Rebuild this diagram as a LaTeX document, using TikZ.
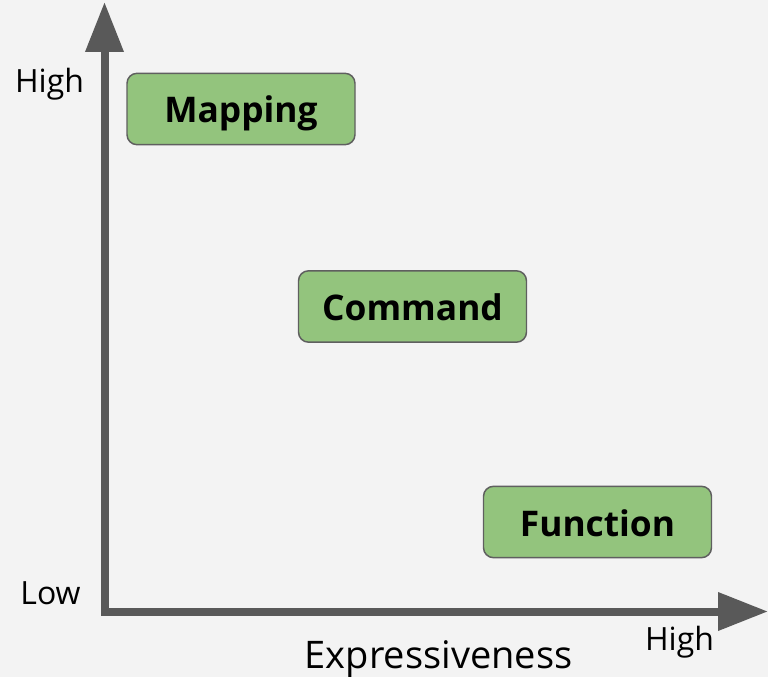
\documentclass[tikz,border=0pt]{standalone}
\usepackage{fontspec}
\setmainfont{Open Sans}
\usetikzlibrary{arrows.meta}
\definecolor{bgc}{HTML}{F3F3F3}
\definecolor{axisc}{HTML}{595959}
\definecolor{boxfill}{HTML}{93C47D}
\definecolor{boxline}{HTML}{5F5F5F}
\tikzset{
  axisline/.style={line width=6pt, draw=axisc, line cap=butt,
    -{Triangle[length=37.5pt,width=27.5pt]}},
  levelbox/.style={draw=boxline, line width=1.1pt, fill=boxfill,
    rounded corners=7.5pt, minimum width=171pt, minimum height=53.5pt,
    inner sep=0pt},
  levelText/.style={inner sep=0pt, anchor=base,
    font=\bfseries\fontsize{26.5pt}{30pt}\selectfont},
  axislabel/.style={inner sep=0pt, anchor=base, font=\fontsize{24pt}{28pt}\selectfont},
}
\begin{document}
\begin{tikzpicture}[x=0.75pt, y=-0.75pt]
  \fill[bgc] (0,0) rectangle (768,677);
  \useasboundingbox (0,0) rectangle (768,677);

  % axes
  \coordinate (origin) at (104.5,611.5);
  \coordinate (xstart) at (101,611.5);
  \coordinate (ytip) at (104.5,2);
  \coordinate (xtip) at (768,611.5);
  \draw[axisline] (origin) -- (ytip);
  \draw[axisline] (xstart) -- (xtip);

  % axis labels
  \node[axislabel] (yhigh) at (49.5,93) {High};
  \node[axislabel] (ylow) at (50.5,604) {Low};
  \node[axislabel] (xhigh) at (679.5,650) {High};
  \node[axislabel, font=\fontsize{28.5pt}{32pt}\selectfont] (xname) at (438.5,668) {Expressiveness};

  % levels
  \node[levelbox] (mapping) at (241,109) {};
  \node[levelbox] (command) at (412.5,306.5) {};
  \node[levelbox] (function) at (597.5,522) {};
  \node[levelText] (mappingText) at (241,123) {Mapping};
  \node[levelText] (commandText) at (412.5,320.5) {Command};
  \node[levelText] (functionText) at (597.5,536) {Function};
\end{tikzpicture}
\end{document}
